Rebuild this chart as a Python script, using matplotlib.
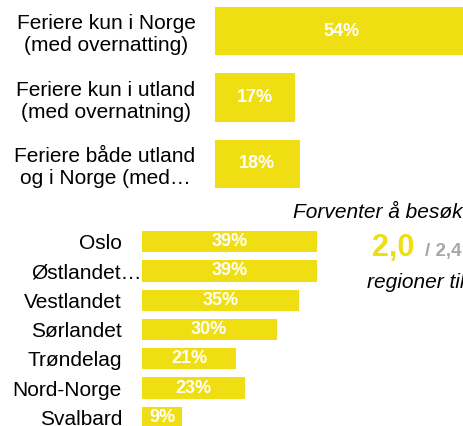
import matplotlib
matplotlib.use("Agg")
import matplotlib.pyplot as plt
import matplotlib.transforms as mtransforms

plt.rcParams['font.family'] = ['Liberation Sans', 'DejaVu Sans']

YELLOW = '#EFDE12'
GREY = '#A6A6A6'

top_labels = ["Feriere kun i Norge\n(med overnatting)",
              "Feriere kun i utland\n(med overnatning)",
              "Feriere både utland\nog i Norge (med…"]
top_values = [54, 17, 18]

reg_labels = ["Oslo", "Østlandet…", "Vestlandet", "Sørlandet",
              "Trøndelag", "Nord-Norge", "Svalbard"]
reg_values = [39, 39, 35, 30, 21, 23, 9]

avg_main = "2,0"
avg_other = "/ 2,4"
text_top = "Forventer å besøke"
text_bottom = "regioner til"

W, H = 464, 426
fig = plt.figure(figsize=(W / 100, H / 100), dpi=100)

# ---- top chart ----
ax1 = fig.add_axes([215 / W, 1 - 197.25 / H, (W - 215) / W, 199.5 / H])
ypos = list(range(len(top_values)))
ax1.barh(ypos, top_values, height=0.73, color=YELLOW)
ax1.set_xlim(0, (W - 215) / 4.7)
ax1.set_ylim(len(top_values) - 0.5, -0.5)
for y, v in zip(ypos, top_values):
    ax1.text(v / 2, y, f"{v}%", ha='center', va='center', color='white',
             fontsize=13, fontweight='bold')
ax1.set_yticks(ypos)
ax1.set_yticklabels(top_labels, fontsize=15, multialignment='center')
ax1.tick_params(axis='y', length=0, pad=14)
ax1.set_xticks([])
for s in ax1.spines.values():
    s.set_visible(False)

# ---- bottom chart ----
bx0 = 141.7
ax2 = fig.add_axes([bx0 / W, 1 - 432 / H, 180 / W, 205 / H])
ypos2 = list(range(len(reg_values)))
ax2.barh(ypos2, reg_values, height=0.73, color=YELLOW)
ax2.set_xlim(0, 40)
ax2.set_ylim(len(reg_values) - 0.5, -0.5)
for y, v in zip(ypos2, reg_values):
    ax2.text(v / 2, y, f"{v}%", ha='center', va='center', color='white',
             fontsize=13, fontweight='bold')
ax2.set_yticks(ypos2)
ax2.set_yticklabels(reg_labels, fontsize=15)
ax2.tick_params(axis='y', length=0, pad=14.2)
ax2.set_xticks([])
for s in ax2.spines.values():
    s.set_visible(False)
# Østlandet label sits further right in the reference
lbl = ax2.get_yticklabels()[1]
lbl.set_transform(lbl.get_transform() +
                  mtransforms.ScaledTranslation(20 / 100, 0, fig.dpi_scale_trans))

# ---- right-hand text ----
fig.text(293 / W, 1 - 213 / H, text_top, fontsize=15, style='italic',
         ha='left', va='center')
fig.text(372 / W, 1 - 256 / H, avg_main, fontsize=22, fontweight='bold',
         color=YELLOW, ha='left', va='baseline')
fig.text(425 / W, 1 - 256 / H, avg_other, fontsize=13.5, fontweight='bold',
         color=GREY, ha='left', va='baseline')
fig.text(367 / W, 1 - 283 / H, text_bottom, fontsize=15, style='italic',
         ha='left', va='center')

fig.savefig("out.png", dpi=100)
